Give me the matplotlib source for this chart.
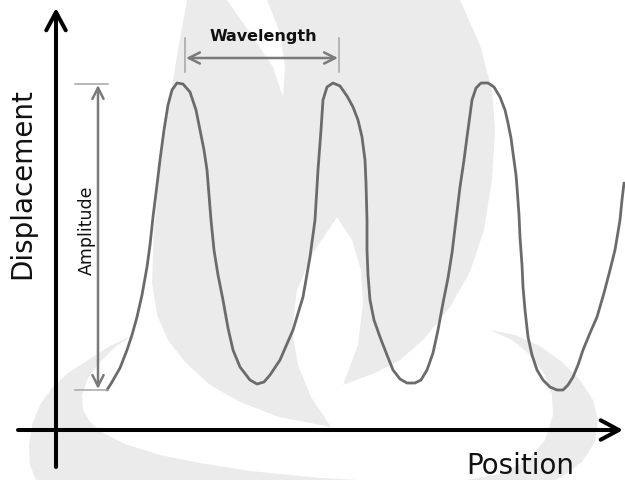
import numpy as np
import matplotlib as mpl
mpl.use('Agg')
import matplotlib.pyplot as plt
from matplotlib.patches import Polygon


# hand-drawn wave (position along axis, displacement above axis)
position = [51, 56, 64, 71, 76, 81, 86, 91, 94, 97, 101, 104, 108, 112, 116, 121,
            127, 134, 140, 144, 148, 151, 153, 155, 158, 162, 167, 172, 177, 184, 194,
            201, 208, 214, 224, 237, 247, 254, 259, 262, 265, 267, 271, 277, 284,
            291, 297, 302, 306, 309, 310, 311, 311, 312, 314, 318, 324, 331, 337,
            344, 351, 359, 365, 371, 377, 382, 387, 392, 396, 400, 404, 408, 411,
            414, 416, 420, 425, 432, 438, 444, 449, 452, 455, 457, 460, 461, 463,
            464, 466, 467, 469, 472, 476, 481, 487, 494, 501, 507, 512, 517, 522,
            527, 534, 541, 548, 554, 559, 564, 566, 568]
displacement = [40, 48, 62, 80, 95, 113, 135, 163, 185, 213, 245, 270, 300, 325, 340, 347,
                346, 338, 320, 300, 280, 260, 235, 210, 180, 155, 130, 102, 80, 63, 50,
                46, 48, 55, 70, 100, 133, 173, 210, 260, 300, 330, 343, 347, 344,
                334, 323, 310, 293, 270, 247, 210, 180, 155, 130, 110, 93, 75, 60,
                51, 47, 47, 50, 60, 77, 100, 127, 152, 177, 210, 243, 270, 293,
                315, 330, 342, 347, 347, 343, 333, 320, 307, 292, 277, 255, 243, 215,
                193, 165, 143, 120, 93, 75, 60, 50, 43, 40, 40, 45, 53, 65,
                80, 97, 113, 137, 160, 180, 210, 230, 247]

# annotation labels
x_label = 'Position'
y_label = 'Displacement'
amp_label = 'Amplitude'
wave_label = 'Wavelength'
amp_x = 42
wave_start, wave_end = 129, 283

# faint flame watermark behind the drawing (image pixels, y downwards)
flame_body = [(187, 0), (178, 50), (168, 110), (160, 170), (154, 230), (152, 283),
              (157, 315), (168, 340), (185, 362), (210, 385), (240, 402), (279, 417),
              (331, 427), (311, 397), (298, 365), (292, 330), (297, 290), (313, 253),
              (337, 217), (352, 240), (361, 270), (363, 303), (358, 345), (343, 385),
              (375, 373), (400, 360), (425, 338), (450, 307), (470, 272), (484, 230),
              (492, 180), (495, 130), (492, 90), (480, 45), (460, 0)]
flame_slit = [(227, 0), (250, 33), (273, 67), (283, 97), (285, 67), (280, 33), (267, 0)]
swoosh = [(133, 335), (115, 347), (100, 362), (88, 378), (82, 395), (83, 410),
          (90, 422), (105, 434), (125, 444), (160, 455), (200, 463), (250, 471),
          (320, 478), (400, 482), (460, 481), (500, 474), (528, 460), (545, 440),
          (553, 415), (552, 395), (545, 375), (530, 355), (512, 340), (490, 330),
          (515, 335), (540, 346), (562, 362), (580, 380), (593, 400), (598, 420),
          (595, 442), (582, 462), (560, 478), (530, 492), (300, 505), (60, 505),
          (38, 485), (30, 465), (29, 445), (32, 425), (40, 405), (52, 388),
          (68, 373), (88, 360), (110, 346)]

wave_color = '#6b6b6b'
note_color = '#7a7a7a'
mark_color = '#a5a5a5'
shade = '#ebebeb'

fig = plt.figure(figsize=(6.25, 4.8), dpi=100)
#
# watermark layer
bg = fig.add_axes([0, 0, 1, 1])
bg.set_xlim(0, 625)
bg.set_ylim(480, 0)
bg.axis('off')
bg.add_patch(Polygon(flame_body, closed=True, facecolor=shade, edgecolor='none'))
bg.add_patch(Polygon(flame_slit, closed=True, facecolor='white', edgecolor='none'))
bg.add_patch(Polygon(swoosh, closed=True, facecolor=shade, edgecolor='none'))
#
# main drawing
ax = fig.add_axes([0, 0, 1, 1])
ax.patch.set_alpha(0)
ax.set_xlim(-56, 569)
ax.set_ylim(-50, 430)
ax.axis('off')

ax.plot(position, displacement, color=wave_color, lw=2.0, solid_capstyle='round',
        solid_joinstyle='round')

# axes arrows
axis_style = '->, head_length=1.3, head_width=0.7'
ax.annotate('', xy=(0, 422), xytext=(0, -37),
            arrowprops=dict(arrowstyle=axis_style, lw=2.9, color='black',
                            shrinkA=0, shrinkB=0))
ax.annotate('', xy=(567, 0), xytext=(-38, 0),
            arrowprops=dict(arrowstyle=axis_style, lw=2.9, color='black',
                            shrinkA=0, shrinkB=0))
ax.text(-34, 246, y_label, rotation=90, ha='center', va='center', fontsize=20,
        color='#111111')
ax.text(520 - 56, -36, x_label, ha='center', va='center', fontsize=20, color='#111111')

# amplitude marker
top = max(displacement)
bottom = min(displacement)
ax.plot([19, 52], [top - 1, top - 1], color=mark_color, lw=1.1)
ax.plot([19, 52], [bottom, bottom], color=mark_color, lw=1.1)
ax.annotate('', xy=(amp_x, top - 2), xytext=(amp_x, bottom + 1),
            arrowprops=dict(arrowstyle='<->, head_length=0.8, head_width=0.4',
                            lw=1.8, color=note_color, shrinkA=0, shrinkB=0))
ax.text(31, 200, amp_label, rotation=90, ha='center', va='center', fontsize=12.5,
        color='#111111')

# wavelength marker
for xx in (wave_start, wave_end):
    ax.plot([xx, xx], [358, 392], color=mark_color, lw=1.1)
ax.annotate('', xy=(wave_end - 1, 372), xytext=(wave_start + 1, 372),
            arrowprops=dict(arrowstyle='<->, head_length=0.8, head_width=0.4',
                            lw=1.8, color=note_color, shrinkA=0, shrinkB=0))
ax.text((wave_start + wave_end) / 2 + 1, 393, wave_label, ha='center', va='center',
        fontsize=11.5, fontweight='bold', color='#111111')

plt.savefig('out.png', dpi=100)
plt.close()
